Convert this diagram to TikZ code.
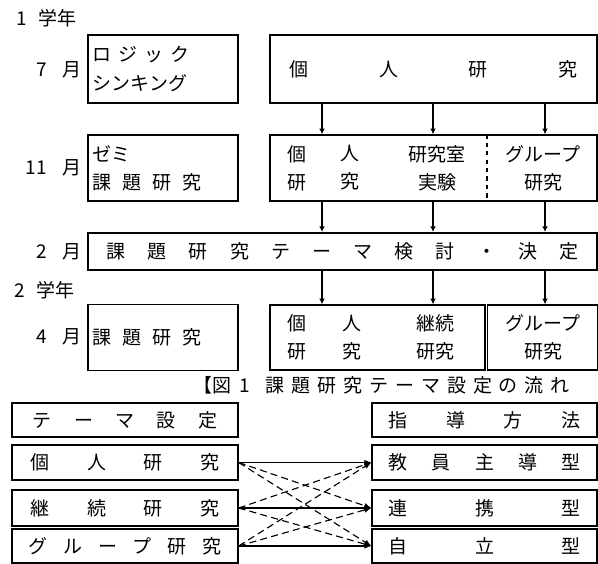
\documentclass[tikz,border=0pt]{standalone}
\usepackage{fontspec}
\newfontfamily\jp{Noto Sans CJK JP}
\usetikzlibrary{arrows.meta,positioning}

\begin{document}
\begin{tikzpicture}[x=0.25mm, y=-0.25mm,
    every node/.style={font=\jp\fontsize{13.5}{16}\selectfont, inner sep=0pt},
    twoline/.style={font=\jp\fontsize{13.5}{20}\selectfont, align=center},
    box/.style={draw, line width=1pt, inner sep=0pt},
    narrow/.style={box, minimum width=37.5mm, minimum height=16.5mm, text width=35mm, align=left, font=\jp\fontsize{13.5}{20}\selectfont},
    wide/.style={box, minimum width=81.75mm, minimum height=16.5mm},
    rowbox/.style={box, minimum width=56.5mm, minimum height=8.75mm},
    flow/.style={-{Latex[length=4pt,width=4pt]}, line width=0.8pt},
    link/.style={-{Latex[length=5pt,width=4pt]}, line width=0.8pt},
    maybe/.style={link, dash pattern=on 5pt off 3pt}
]
\useasboundingbox (0,0) rectangle (598,563);

% 1st year
\node[anchor=west] (yr1) at (16,18) {1\hspace{3mm}学年};

% July
\node[anchor=east] (jul) at (82,70) {7\hspace{4mm}月};
\node[narrow, minimum height=17mm] (lft7) at (163,69) {\makebox[24mm][l]{ロ\hfill ジ\hfill ッ\hfill ク}\\シンキング};
\node[wide, minimum height=17mm] (rgt7) at (433.5,69) {\makebox[72mm]{個\hfill 人\hfill 研\hfill 究}};

% November
\node[anchor=east] (nov) at (82,168) {11\hspace{4mm}月};
\node[narrow] (lft11) at (163,168) {ゼミ\\\makebox[27mm][l]{課\hfill 題\hfill 研\hfill 究}};
\node[wide] (rgt11) at (433.5,168) {};
\node[twoline] (p11a) at (297,168) {個\\研};
\node[twoline] (p11b) at (350,168) {人\\究};
\node[twoline] (p11c) at (437,168) {研究室\\実験};
\node[twoline] (p11d) at (543,168) {グループ\\研究};
\coordinate (split) at (487,0);
\draw[dashed, line width=0.8pt] (rgt11.north -| split) -- (rgt11.south -| split);

% February
\node[anchor=east] (feb) at (82,252) {2\hspace{4mm}月};
\node[box, line width=1.4pt, minimum width=127.25mm, minimum height=9.25mm] (theme) at (342.5,251.5)
    {\makebox[118mm]{課\hfill 題\hfill 研\hfill 究\hfill テ\hfill ー\hfill マ\hfill 検\hfill 討\hfill ・\hfill 決\hfill 定}};

% 2nd year
\node[anchor=west] (yr2) at (14,290) {2\hspace{3mm}学年};

% April
\node[anchor=east] (apr) at (82,337) {4\hspace{4mm}月};
\node[narrow] (lft4) at (163,337.5) {\makebox[27mm][l]{課\hfill 題\hfill 研\hfill 究}};
\node[box, minimum width=53.75mm, minimum height=16.25mm] (rgt4) at (377.5,337.5) {};
\node[box, minimum width=27.5mm, minimum height=16.25mm] (grp4) at (542.5,337.5) {};
\node[twoline] (p4a) at (297,337.5) {個\\研};
\node[twoline] (p4b) at (352,337.5) {人\\究};
\node[twoline] (p4c) at (435,337.5) {継続\\研究};
\node[twoline] (p4d) at (543,337.5) {グループ\\研究};

% flow arrows
\coordinate (k1) at (322,0);
\coordinate (k2) at (433,0);
\coordinate (k3) at (545,0);
\foreach \k in {k1,k2,k3} {
  \draw[flow] (rgt7.south -| \k) -- (rgt11.north -| \k);
  \draw[flow] (rgt11.south -| \k) -- (theme.north -| \k);
}
\draw[flow] (theme.south -| k1) -- (rgt4.north -| k1);
\draw[flow] (theme.south -| k2) -- (rgt4.north -| k2);
\draw[flow] (theme.south -| k3) -- (grp4.north -| k3);

% caption
\node[anchor=west] (cap) at (193,385) {【図\hspace{2mm}1\hspace{4mm}\makebox[76mm]{課\hfill 題\hfill 研\hfill 究\hfill テ\hfill ー\hfill マ\hfill 設\hfill 定\hfill の\hfill 流\hfill れ}};

% theme setting vs guidance
\node[rowbox, minimum height=8.5mm] (t0) at (125,420) {\makebox[46mm]{テ\hfill ー\hfill マ\hfill 設\hfill 定}};
\node[rowbox] (t1) at (125,462.5) {\makebox[47mm]{個\hfill 人\hfill 研\hfill 究}};
\node[rowbox, minimum height=9mm] (t2) at (125,508) {\makebox[47mm]{継\hfill 続\hfill 研\hfill 究}};
\node[rowbox, minimum height=8.5mm] (t3) at (125,546) {\makebox[48mm]{グ\hfill ル\hfill ー\hfill プ\hfill 研\hfill 究}};

\node[rowbox, minimum width=56.25mm, minimum height=8.5mm] (m0) at (484.5,420) {\makebox[48mm]{指\hfill 導\hfill 方\hfill 法}};
\node[rowbox, minimum width=56.25mm] (m1) at (484.5,462.5) {\makebox[48mm]{教\hfill 員\hfill 主\hfill 導\hfill 型}};
\node[rowbox, minimum width=56.25mm, minimum height=9mm] (m2) at (484.5,508) {\makebox[48mm]{連\hfill 携\hfill 型}};
\node[rowbox, minimum width=56.25mm, minimum height=8.5mm] (m3) at (484.5,546) {\makebox[48mm]{自\hfill 立\hfill 型}};

\foreach \i in {1,2,3} {
  \foreach \j in {1,2,3} {
    \ifnum\i=\j
      \draw[link] (t\i.east) -- (m\j.west);
    \else
      \draw[maybe] (t\i.east) -- (m\j.west);
    \fi
  }
}

\end{tikzpicture}
\end{document}
